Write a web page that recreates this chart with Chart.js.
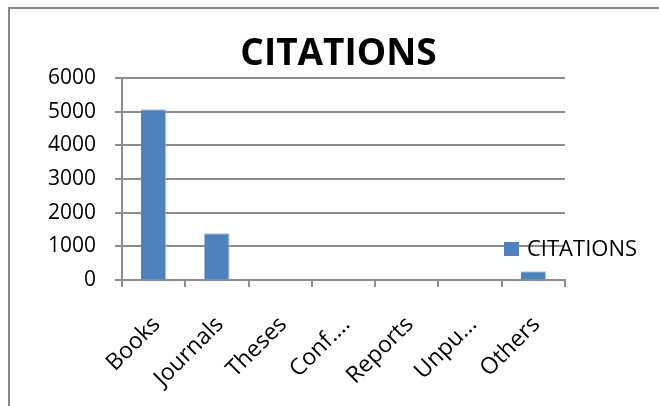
<!DOCTYPE html>
<html>
<head>
  <title>CITATIONS</title>
  <script src="https://cdn.jsdelivr.net/npm/chart.js"></script>
  <style>
    html, body { margin: 0; padding: 0; background: #fff; }
    #wrap { position: relative; width: 659px; height: 406px; }
    #frame { position: absolute; left: 8px; top: 7px; right: -4px; bottom: -4px;
             border-left: 2px solid #8a8a8a; border-top: 2px solid #8a8a8a; }
    canvas { position: absolute; left: 0; top: 0; }
  </style>
</head>
<body>
  <div id="wrap">
    <div id="frame"></div>
    <canvas id="barChart" width="659" height="406"></canvas>
  </div>

  <script>
    // chart data
    var categories = ['Books', 'Journals', 'Theses', 'Conf....', 'Reports', 'Unpu...', 'Others'];
    var citations = [5070, 1390, 0, 0, 0, 0, 260];
    var yTicks = [0, 1000, 2000, 3000, 4000, 5000, 6000];
    var seriesName = 'CITATIONS';
    var chartTitle = 'CITATIONS';

    var gridGray = '#8c8c8c';
    var barBlue = '#4f81bd';

    // title drawn by hand so it centres over the plot like the office chart
    var titleOverPlot = {
      id: 'titleOverPlot',
      afterDraw: function(chart) {
        var ctx = chart.ctx;
        var area = chart.chartArea;
        ctx.save();
        ctx.fillStyle = '#000';
        ctx.font = 'bold 37px "Open Sans"';
        ctx.textAlign = 'center';
        ctx.textBaseline = 'middle';
        ctx.fillText(chartTitle, (area.left + area.right) / 2 - 5, area.top - 24);
        ctx.restore();
      }
    };

    // legend sits inside the plot, on the right
    var legendInside = {
      id: 'legendInside',
      afterDraw: function(chart) {
        var ctx = chart.ctx;
        var area = chart.chartArea;
        var x = area.right - 61;
        var y = area.bottom - 31;
        ctx.save();
        ctx.fillStyle = barBlue;
        ctx.fillRect(x, y - 7, 15, 14);
        ctx.fillStyle = '#000';
        ctx.font = '22px "Open Sans"';
        ctx.textBaseline = 'middle';
        ctx.textAlign = 'left';
        ctx.fillText(chart.data.datasets[0].label, x + 23, y + 1);
        ctx.restore();
      }
    };

    new Chart(document.getElementById('barChart'), {
      type: 'bar',
      data: {
        labels: categories,
        datasets: [{
          label: seriesName,
          data: citations,
          backgroundColor: barBlue,
          borderColor: '#a9c4e6',
          borderWidth: { top: 1, right: 1, left: 0, bottom: 0 },
          barPercentage: 0.4,
          categoryPercentage: 1
        }]
      },
      options: {
        responsive: false,
        animation: false,
        layout: { padding: { left: 10, right: 94, top: 78, bottom: 0 } },
        plugins: {
          legend: { display: false },
          tooltip: { enabled: false },
          title: { display: false }
        },
        scales: {
          x: {
            grid: { offset: true, drawOnChartArea: false, drawTicks: true, tickLength: 7, color: gridGray, lineWidth: 2 },
            border: { display: true, color: gridGray, width: 2 },
            ticks: {
              color: '#000',
              font: { family: '"Open Sans"', size: 23 },
              minRotation: 45,
              maxRotation: 45,
              autoSkip: false,
              padding: 24,
              labelOffset: 3
            },
            afterFit: function(scale) { scale.height = 126; }
          },
          y: {
            min: 0,
            max: 6000,
            afterBuildTicks: function(scale) {
              scale.ticks = yTicks.map(function(v) { return { value: v }; });
            },
            grid: { color: gridGray, lineWidth: 2, tickLength: 7, drawTicks: true },
            border: { display: true, color: gridGray, width: 2 },
            ticks: {
              color: '#000',
              font: { family: '"Open Sans"', size: 21 },
              padding: 19,
              callback: function(value) { return String(value); }
            },
            afterFit: function(scale) { scale.width = 112; }
          }
        }
      },
      plugins: [titleOverPlot, legendInside]
    });
  </script>
</body>
</html>
